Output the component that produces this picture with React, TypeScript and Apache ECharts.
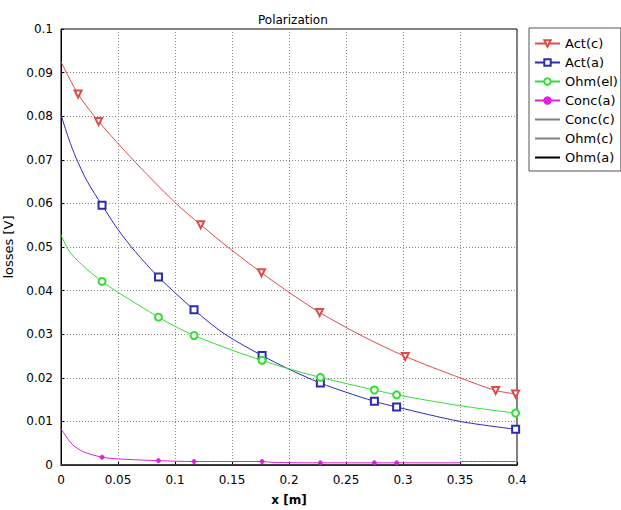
import React, { useEffect, useRef } from "react";
import * as echarts from "echarts";

// ---- data ----
const seriesNames = ["Act(c)", "Act(a)", "Ohm(el)", "Conc(a)", "Conc(c)", "Ohm(c)", "Ohm(a)"];

const actC: [number, number][] = [
  [0, 0.0925], [0.015, 0.0851], [0.033, 0.0788], [0.0643, 0.0697], [0.1, 0.0602],
  [0.1225, 0.0551], [0.1462, 0.05], [0.1759, 0.0441], [0.1962, 0.0403], [0.2268, 0.035],
  [0.2634, 0.0297], [0.302, 0.0249], [0.35, 0.02], [0.3813, 0.0171], [0.3988, 0.0163],
];
const actCMarks = [1, 2, 5, 7, 9, 11, 13, 14];

const actA: [number, number][] = [
  [0, 0.0803], [0.0068, 0.0748], [0.0133, 0.0704], [0.0229, 0.0651], [0.036, 0.0596],
  [0.05, 0.054], [0.065, 0.049], [0.0855, 0.0431], [0.1167, 0.0356], [0.1438, 0.03],
  [0.1764, 0.0251], [0.2006, 0.0219], [0.2275, 0.0188], [0.25, 0.0167], [0.2749, 0.0146],
  [0.2944, 0.0133], [0.35, 0.01], [0.3988, 0.0082],
];
const actAMarks = [4, 7, 8, 10, 12, 14, 15, 17];

const ohmEl: [number, number][] = [
  [0, 0.0528], [0.0068, 0.0492], [0.018, 0.046], [0.036, 0.0421], [0.05, 0.0396],
  [0.0855, 0.0339], [0.1, 0.0318], [0.1167, 0.0297], [0.1525, 0.0261], [0.1764, 0.024],
  [0.2006, 0.022], [0.2275, 0.0201], [0.25, 0.0187], [0.2749, 0.0172], [0.2944, 0.0161],
  [0.35, 0.0136], [0.3988, 0.0119],
];
const ohmElMarks = [3, 5, 7, 9, 11, 13, 14, 16];

const concA: [number, number][] = [
  [0, 0.0083], [0.003, 0.0071], [0.01, 0.0047], [0.02, 0.003], [0.036, 0.0018],
  [0.05, 0.0014], [0.0855, 0.001], [0.1167, 0.0008], [0.1764, 0.0008], [0.186, 0.0006],
  [0.2275, 0.0005], [0.2749, 0.0005], [0.2944, 0.0005], [0.349, 0.0005], [0.351, 0.0008],
  [0.3988, 0.0008],
];
const concAMarks = [4, 6, 7, 8, 10, 11, 12];

const concC: [number, number][] = [[0, 0], [0.3988, 0]];
const ohmC: [number, number][] = [[0, 0], [0.3988, 0]];
const ohmA: [number, number][] = [[0, 0], [0.3988, 0]];

const xTicks = { min: 0, max: 0.4, interval: 0.05 };
const yTicks = { min: 0, max: 0.1, interval: 0.01 };

const colors = ["#e04a4a", "#2a2ab8", "#33dd33", "#e020d8", "#808080", "#808080", "#000000"];

function withMarks(pts: [number, number][], marks: number[]) {
  return pts.map((p, i) =>
    marks.includes(i) ? { value: p } : { value: p, symbol: "none" }
  );
}

export default function App() {
  const ref = useRef<HTMLDivElement>(null);

  useEffect(() => {
    document.body.style.margin = "0";
    if (!ref.current) return;
    const chart = echarts.init(ref.current, undefined, { renderer: "svg" });
    const font = "DejaVu Sans";
    const mkLine = (
      name: string,
      data: any[],
      color: string,
      symbol: string,
      symbolSize: number,
      extra: any = {}
    ) => ({
      name,
      type: "line",
      data,
      symbol,
      symbolSize,
      smooth: 0.3,
      showAllSymbol: true,
      lineStyle: { color, width: 1 },
      itemStyle: { color, borderColor: color, borderWidth: 1 },
      ...extra,
    });

    const hiddenSym = { itemStyle: { opacity: 0 } };

    chart.setOption({
      animation: false,
      backgroundColor: "#ffffff",
      textStyle: { fontFamily: font },
      title: {
        text: "Polarization",
        left: 253,
        top: 9,
        textStyle: { fontSize: 12, fontWeight: "normal", color: "#000", fontFamily: font },
      },
      legend: {
        orient: "vertical",
        left: 529,
        top: 28,
        padding: [9, 3, 7, 5],
        itemGap: 6,
        itemWidth: 25,
        itemHeight: 8,
        borderColor: "#555",
        borderWidth: 1,
        backgroundColor: "#fff",
        textStyle: { fontSize: 13, color: "#000", fontFamily: font },
        data: [
          "Act(c)",
          "Act(a)",
          "Ohm(el)",
          "Conc(a)",
          { name: "Conc(c)", ...hiddenSym },
          { name: "Ohm(c)", ...hiddenSym },
          { name: "Ohm(a)", ...hiddenSym },
        ],
      },
      grid: {
        left: 61,
        right: 104,
        top: 29,
        bottom: 45,
        show: true,
        borderColor: "#000",
        borderWidth: 1,
        containLabel: false,
        outerBoundsMode: "none",
      },
      xAxis: {
        type: "value",
        ...xTicks,
        name: "x [m]",
        nameLocation: "middle",
        nameGap: 29,
        nameTextStyle: { fontSize: 12, fontWeight: "bold", color: "#000", fontFamily: font },
        axisLine: { show: true, lineStyle: { color: "#000", width: 1 } },
        axisTick: { show: true, inside: true, length: 3, lineStyle: { color: "#000" } },
        axisLabel: { fontSize: 12, color: "#000", margin: 9, fontFamily: font },
        splitLine: { show: true, lineStyle: { type: [1, 2], color: "#8a8a8a", width: 1 } },
      },
      yAxis: {
        type: "value",
        ...yTicks,
        name: "losses [V]",
        nameLocation: "middle",
        nameGap: 38,
        nameTextStyle: { fontSize: 13, color: "#000", fontFamily: font },
        axisLine: { show: true, lineStyle: { color: "#000", width: 1 } },
        axisTick: { show: true, inside: true, length: 3, lineStyle: { color: "#000" } },
        axisLabel: { fontSize: 12, color: "#000", margin: 8, fontFamily: font },
        splitLine: { show: true, lineStyle: { type: [1, 2], color: "#8a8a8a", width: 1 } },
      },
      series: [
        mkLine("Act(c)", withMarks(actC, actCMarks), colors[0], "emptyTriangle", 7, { symbolRotate: 180 }),
        mkLine("Act(a)", withMarks(actA, actAMarks), colors[1], "emptyRect", 7),
        mkLine("Ohm(el)", withMarks(ohmEl, ohmElMarks), colors[2], "emptyCircle", 7),
        mkLine("Conc(a)", withMarks(concA, concAMarks), colors[3], "circle", 4),
        mkLine("Conc(c)", concC, colors[4], "none", 0),
        mkLine("Ohm(c)", ohmC, colors[5], "none", 0),
        mkLine("Ohm(a)", ohmA, colors[6], "none", 0),
      ],
    });
    return () => chart.dispose();
  }, []);

  return <div ref={ref} style={{ width: 621, height: 510 }} />;
}
